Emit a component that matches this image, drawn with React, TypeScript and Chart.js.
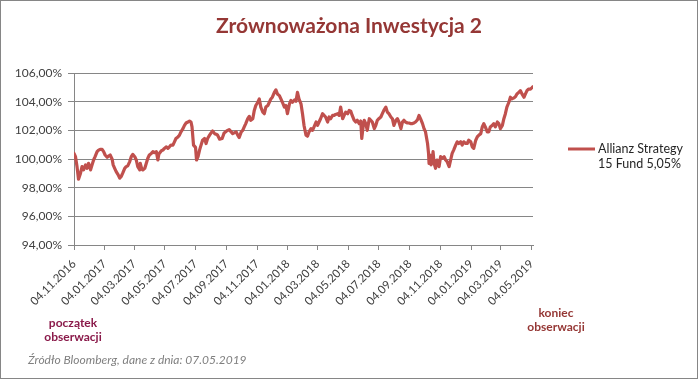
import React, { useEffect, useRef } from "react";
import { Chart, registerables } from "chart.js";

Chart.register(...registerables);

const chartTitle = "Zrównoważona Inwestycja 2";
const seriesLabel = ["Allianz Strategy", "15 Fund 5,05%"];
const startNote = ["początek", "obserwacji"];
const endNote = ["koniec", "obserwacji"];
const sourceNote = "Źródło Bloomberg, dane z dnia: 07.05.2019";

const startDate = "04.11.2016";
const endDate = "07.05.2019";

const tickLabels = [
  "04.11.2016", "04.01.2017", "04.03.2017", "04.05.2017", "04.07.2017", "04.09.2017",
  "04.11.2017", "04.01.2018", "04.03.2018", "04.05.2018", "04.07.2018", "04.09.2018",
  "04.11.2018", "04.01.2019", "04.03.2019", "04.05.2019",
];

const yTicks = [94, 96, 98, 100, 102, 104, 106];

// days since 04.11.2016
const days = [
  0, 3, 6, 9, 13, 16, 19, 23, 26, 29, 33, 36, 39, 42, 46, 49, 52, 56, 59, 62, 66, 69, 72, 76, 78,
  81, 84, 88, 91, 94, 97, 101, 104, 107, 111, 114, 117, 121, 124, 127, 131, 132, 135, 137, 141,
  144, 147, 150, 154, 157, 160, 164, 167, 169, 174, 177, 180, 184, 187, 190, 193, 197, 200, 203,
  207, 210, 213, 217, 220, 223, 227, 230, 233, 235, 238, 242, 244, 247, 250, 253, 256, 260, 263,
  266, 270, 273, 276, 280, 283, 286,
  290, 295, 299, 304, 309, 313, 316, 319, 323, 326, 329, 333, 336, 339, 342, 346, 349, 352, 356,
  359, 362, 366, 369, 372, 376, 379, 382, 386, 389, 392, 395, 399, 402, 405, 409, 412, 415, 419,
  422, 425, 429, 432, 435, 439, 442, 445, 448, 452, 455, 458, 462, 465, 468, 472, 475, 478, 482,
  485, 488, 491, 495, 498, 501, 505, 508, 511, 515, 518, 521, 525, 528, 531, 535, 538, 541, 545,
  548, 551, 554, 558, 561, 564, 568, 571, 573, 576, 578, 581, 584,
  588, 591, 594, 598, 601, 604, 607, 611, 614, 617, 621, 624, 627, 631, 634, 637, 641, 644, 647,
  651, 654, 657, 660, 664, 667, 670, 674, 677, 680, 684, 687, 690, 694, 697, 700, 704, 706, 707,
  709, 711, 713, 715, 717, 720, 723, 727, 730, 733, 737, 740, 743, 747, 750, 753, 756, 760, 763,
  766, 770, 773, 776, 780, 783, 786, 790, 793, 796, 800, 803, 806, 810, 813, 816, 819, 823, 826,
  829, 833, 836, 839, 843, 846, 849, 853, 856, 859, 862, 866, 869, 872, 876, 879, 882, 886, 889,
  892, 896, 899, 902, 905, 909, 912, 914,
];

// value in %
const values = [
  100.39, 100.16, 99.47, 98.59, 99.01, 99.47, 99.24, 99.59, 99.35, 99.7, 99.24, 99.59, 99.93,
  100.16, 100.51, 100.62, 100.67, 100.67, 100.51, 100.28, 100.12, 100.21, 100.28, 99.98, 99.59,
  99.35, 99.12, 98.89, 98.66, 98.78, 99.01, 99.35, 99.47, 99.52, 99.82, 100.16, 100.32, 100.16,
  99.93, 99.47, 99.24, 99.7, 99.29, 99.24, 99.35, 99.7, 100.05, 100.28, 100.39, 100.51, 100.44,
  100.51, 99.93, 100.35, 100.58, 100.62, 100.74, 100.85, 100.74, 100.85, 100.97, 100.97, 101.2,
  101.43, 101.54, 101.66, 101.89, 102.12, 102.35, 102.51, 102.58, 102.65, 102.58, 102.24, 100.97,
  100.81, 99.93, 100.16, 100.62, 100.97, 101.31, 101.43, 101.08, 101.43, 101.66, 101.82, 101.96,
  101.77, 101.73, 101.66,
  101.38, 101.43, 101.82, 101.96, 102.05, 101.89, 101.77, 101.82, 101.89, 101.66, 101.5, 101.89,
  102.0, 102.24, 102.47, 102.81, 102.97, 102.7, 102.81, 103.39, 103.73, 103.96, 104.19, 103.62,
  103.27, 103.16, 103.62, 103.73, 103.96, 104.19, 104.31, 104.65, 104.82, 104.54, 104.42, 104.19,
  103.96, 103.62, 103.73, 103.16, 103.85, 104.08, 103.96, 104.12, 104.03, 104.65, 104.19, 103.85,
  103.16, 102.35, 101.66, 101.59, 101.89, 102.12, 102.0, 102.24, 102.58, 102.35, 102.58, 102.81,
  103.16, 103.04, 102.93, 102.58, 102.93, 102.81, 103.04, 103.04, 103.11, 103.16, 103.04, 103.62,
  102.81, 103.04, 103.27, 103.16, 103.39, 103.34, 103.04, 102.7, 102.58, 102.7, 102.47, 102.65,
  101.43, 102.35, 102.7, 102.47, 102.0,
  102.81, 102.7, 102.58, 102.12, 102.35, 102.7, 102.81, 102.93, 103.16, 103.39, 103.62, 103.27,
  103.16, 102.93, 102.81, 102.35, 102.7, 102.81, 102.58, 102.12, 102.58, 102.7, 102.58, 102.51,
  102.51, 102.47, 102.47, 102.51, 102.58, 102.74, 103.04, 102.81, 102.47, 102.12, 101.89, 101.08,
  100.39, 99.7, 100.28, 99.59, 99.82, 100.51, 99.7, 99.35, 99.93, 99.47, 100.16, 100.05, 100.16,
  99.93, 99.82, 99.47, 99.93, 100.39, 100.62, 100.97, 101.2, 101.08, 101.2, 100.97, 101.2, 101.08,
  101.08, 101.31, 101.2, 100.85, 100.74, 101.31, 101.54, 101.66, 101.77, 102.24, 102.47, 102.24,
  101.89, 101.89, 102.24, 102.35, 102.47, 102.24, 102.58, 102.47, 102.12, 102.35, 102.81, 103.16,
  103.62, 103.96, 104.31, 104.19, 104.26, 104.35, 104.54, 104.65, 104.77, 104.54, 104.31, 104.54,
  104.77, 104.88, 104.88, 104.98, 105.05,
];

const toDay = (s: string) => {
  const [d, m, y] = s.split(".").map(Number);
  const [d0, m0, y0] = startDate.split(".").map(Number);
  return Math.round((Date.UTC(y, m - 1, d) - Date.UTC(y0, m0 - 1, d0)) / 86400000);
};

const tickDays = tickLabels.map(toDay);
const lastDay = toDay(endDate);

const FONT = "Lato, 'Open Sans', sans-serif";
const AXIS_GREY = "#868686";
const LINE_RED = "#C0504D";

const overlayPlugin = {
  id: "overlayTexts",
  afterDraw(chart: any) {
    const ctx = chart.ctx as CanvasRenderingContext2D;
    ctx.save();
    // outer frame
    ctx.strokeStyle = AXIS_GREY;
    ctx.lineWidth = 1;
    ctx.strokeRect(0.5, 0.5, 697, 378);

    // title
    ctx.fillStyle = "#953735";
    ctx.font = `bold 21px ${FONT}`;
    ctx.textAlign = "center";
    ctx.textBaseline = "alphabetic";
    ctx.fillText(chartTitle, 349, 33);

    // legend
    ctx.strokeStyle = LINE_RED;
    ctx.lineWidth = 3;
    ctx.beginPath();
    ctx.moveTo(568, 149);
    ctx.lineTo(595, 149);
    ctx.stroke();
    ctx.fillStyle = "#262626";
    ctx.font = `12.5px ${FONT}`;
    ctx.textAlign = "left";
    ctx.fillText(seriesLabel[0], 598, 153);
    ctx.fillText(seriesLabel[1], 598, 168);

    // start / end notes
    ctx.font = `bold 12px ${FONT}`;
    ctx.textAlign = "center";
    ctx.fillStyle = "#8A1A4A";
    ctx.fillText(startNote[0], 73, 327);
    ctx.fillText(startNote[1], 73, 341);
    ctx.fillStyle = "#953735";
    ctx.fillText(endNote[0], 556, 317);
    ctx.fillText(endNote[1], 556, 331);

    // source
    ctx.font = `italic 12px ${FONT}`;
    ctx.textAlign = "left";
    ctx.fillStyle = "#7F7F7F";
    ctx.fillText(sourceNote, 28, 364);
    ctx.restore();
  },
};

export default function App() {
  const ref = useRef<HTMLCanvasElement | null>(null);

  useEffect(() => {
    if (!ref.current) return;
    const chart = new Chart(ref.current, {
      type: "line",
      data: {
        datasets: [
          {
            label: seriesLabel.join(" "),
            data: days.map((x, i) => ({ x, y: values[i] })),
            borderColor: LINE_RED,
            backgroundColor: LINE_RED,
            borderWidth: 3.2,
            pointRadius: 0,
            tension: 0,
            borderJoinStyle: "round",
            borderCapStyle: "round",
          },
        ],
      },
      options: {
        responsive: false,
        animation: false,
        devicePixelRatio: 1,
        layout: { padding: { left: 0, right: 167, top: 73, bottom: 0 } },
        plugins: {
          legend: { display: false },
          title: { display: false },
          tooltip: { enabled: false },
        },
        scales: {
          x: {
            type: "linear",
            min: 0,
            max: lastDay,
            afterBuildTicks: (s: any) => {
              s.ticks = tickDays.map((v) => ({ value: v }));
            },
            afterFit: (s: any) => {
              s.height = 135;
            },
            ticks: {
              autoSkip: false,
              minRotation: 45,
              maxRotation: 45,
              padding: 7,
              color: "#404040",
              font: { family: FONT, size: 11.5 },
              callback: (_v: any, i: number) => tickLabels[i],
            },
            grid: {
              drawOnChartArea: false,
              drawTicks: true,
              tickLength: 5,
              color: AXIS_GREY,
            },
            border: { color: AXIS_GREY, width: 1 },
          },
          y: {
            min: yTicks[0],
            max: yTicks[yTicks.length - 1],
            afterBuildTicks: (s: any) => {
              s.ticks = yTicks.map((v) => ({ value: v }));
            },
            afterFit: (s: any) => {
              s.width = 74;
            },
            ticks: {
              padding: 6,
              color: "#404040",
              font: { family: FONT, size: 12 },
              callback: (v: any) => Number(v).toFixed(2).replace(".", ",") + "%",
            },
            grid: { color: AXIS_GREY, tickLength: 6, lineWidth: 1 },
            border: { color: AXIS_GREY, width: 1 },
          },
        },
      },
      plugins: [overlayPlugin],
    });
    return () => chart.destroy();
  }, []);

  return (
    <div style={{ position: "absolute", left: 0, top: 0, width: 700, height: 380, background: "#fff" }}>
      <canvas ref={ref} width={700} height={380} style={{ display: "block" }} />
    </div>
  );
}
